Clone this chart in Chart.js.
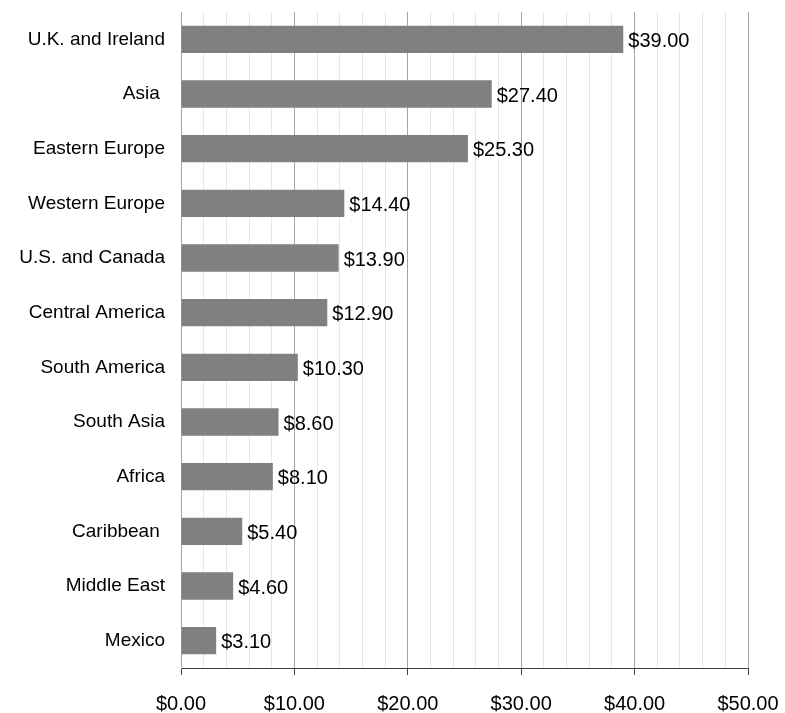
<!DOCTYPE html>
<html>
<head>
<meta charset="utf-8">
<script src="https://cdn.jsdelivr.net/npm/chart.js@4"></script>
<style>
  html, body { margin: 0; padding: 0; background: #fff; }
  #wrap { width: 785px; height: 713px; }
</style>
</head>
<body>
<div id="wrap"><canvas id="chart"></canvas></div>
<script>
const regions = ['U.K. and Ireland', 'Asia ', 'Eastern Europe', 'Western Europe', 'U.S. and Canada',
  'Central America', 'South America', 'South Asia', 'Africa', 'Caribbean ', 'Middle East', 'Mexico'];
const amounts = [39.0, 27.4, 25.3, 14.4, 13.9, 12.9, 10.3, 8.6, 8.1, 5.4, 4.6, 3.1];
const xMin = 0;
const xMax = 50;
const xStep = 2;

const money = (v) => '$' + v.toFixed(2);
const FONT = 'Liberation Sans, Arial, sans-serif';

// value labels after each bar
const barLabels = {
  id: 'barLabels',
  afterDatasetsDraw(chart) {
    const ctx = chart.ctx;
    const meta = chart.getDatasetMeta(0);
    ctx.save();
    ctx.font = '20px ' + FONT;
    ctx.fillStyle = '#000';
    ctx.textAlign = 'left';
    ctx.textBaseline = 'middle';
    meta.data.forEach((bar, i) => {
      ctx.fillText(money(amounts[i]), bar.x + 5, bar.y + 2);
    });
    ctx.restore();
  }
};

new Chart(document.getElementById('chart'), {
  type: 'bar',
  data: {
    labels: regions,
    datasets: [{
      data: amounts,
      backgroundColor: '#808080',
      borderWidth: 0,
      barPercentage: 0.5,
      categoryPercentage: 1.0
    }]
  },
  options: {
    indexAxis: 'y',
    responsive: true,
    maintainAspectRatio: false,
    animation: false,
    layout: { padding: { top: 12, right: 37, left: 0, bottom: 0 } },
    plugins: {
      legend: { display: false },
      tooltip: { enabled: false }
    },
    scales: {
      x: {
        min: xMin,
        max: xMax,
        afterFit: (scale) => {
          scale.height = 45;
          scale.paddingLeft = 0;
          scale.paddingRight = 0;
        },
        ticks: {
          stepSize: xStep,
          autoSkip: false,
          maxRotation: 0,
          padding: 17,
          color: '#000',
          font: { family: FONT, size: 20 },
          callback: (v) => (v % 10 === 0 ? money(v) : '')
        },
        grid: {
          color: (c) => (c.tick && c.tick.value % 10 === 0 ? '#a6a6a6' : '#e6e6e6'),
          tickColor: (c) => (c.tick && c.tick.value % 10 === 0 ? '#404040' : 'rgba(0,0,0,0)'),
          tickLength: 7,
          lineWidth: 1
        },
        border: { color: '#404040', width: 1 }
      },
      y: {
        afterFit: (scale) => {
          scale.width = 181;
          scale.paddingTop = 0;
          scale.paddingBottom = 0;
        },
        ticks: {
          padding: 16,
          color: '#000',
          font: { family: FONT, size: 19 }
        },
        grid: { display: false, drawTicks: false },
        border: { color: '#a6a6a6', width: 1 }
      }
    }
  },
  plugins: [barLabels]
});
</script>
</body>
</html>
